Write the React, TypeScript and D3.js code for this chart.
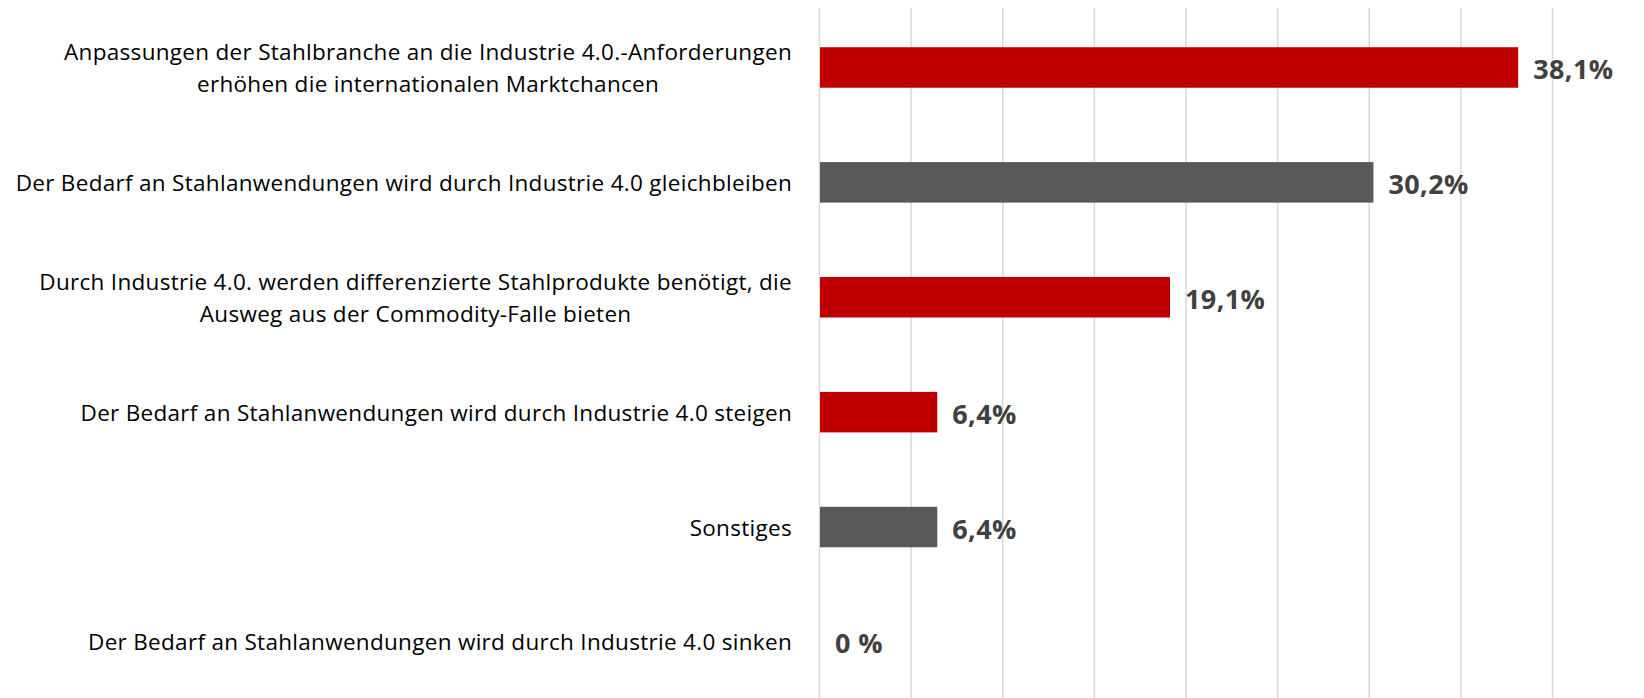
import React from "react";
import * as d3 from "d3";

const categories: string[][] = [
  ["Anpassungen der Stahlbranche an die Industrie 4.0.-Anforderungen", "erhöhen die internationalen Marktchancen"],
  ["Der Bedarf an Stahlanwendungen wird durch Industrie 4.0 gleichbleiben"],
  ["Durch Industrie 4.0. werden differenzierte Stahlprodukte benötigt, die", "Ausweg aus der Commodity-Falle bieten"],
  ["Der Bedarf an Stahlanwendungen wird durch Industrie 4.0 steigen"],
  ["Sonstiges"],
  ["Der Bedarf an Stahlanwendungen wird durch Industrie 4.0 sinken"],
];
const values: number[] = [38.1, 30.2, 19.1, 6.4, 6.4, 0];
const valueLabels: string[] = ["38,1%", "30,2%", "19,1%", "6,4%", "6,4%", "0 %"];
const barColors: string[] = ["#C00000", "#595959", "#C00000", "#C00000", "#595959", "#C00000"];
const gridTicks: number[] = [0, 5, 10, 15, 20, 25, 30, 35, 40];

const W = 1644;
const H = 698;
const left = 820;
const right = 1553;
const gridTop = 8;
const gridBottom = 698;
const bandTop = 10;
const bandBottom = 699.4;
const labelRight = 792;
const FONT = "'Open Sans', Lato, sans-serif";

export default function App() {
  const x = d3.scaleLinear().domain([0, 40]).range([left, right]);
  const y = d3
    .scaleBand<number>()
    .domain(d3.range(categories.length))
    .range([bandTop, bandBottom])
    .paddingInner(0.6475)
    .paddingOuter(0.324);
  const lineH = 31.5;

  return (
    <svg
      width={W}
      height={H}
      style={{ position: "absolute", left: 0, top: 0, display: "block", background: "#fff" }}
    >
      {gridTicks.map((t) => (
        <line key={t} x1={x(t) - 0.5} x2={x(t) - 0.5} y1={gridTop} y2={gridBottom} stroke="#D9D9D9" strokeWidth={1.5} />
      ))}
      {values.map((v, i) => {
        const yb = y(i)!;
        const cy = yb + y.bandwidth() / 2;
        const lines = categories[i];
        return (
          <g key={i}>
            {v > 0 && (
              <rect x={x(0)} y={yb} width={x(v) - x(0)} height={y.bandwidth()} fill={barColors[i]} />
            )}
            <text
              x={x(v) + 15}
              y={cy + 11.5}
              fontFamily={FONT}
              fontWeight="bold"
              fontSize={27}
              letterSpacing={0.4}
              fill="#404040"
            >
              {valueLabels[i]}
            </text>
            <LabelBlock lines={lines} right={labelRight} cy={cy} lineH={lineH} />
          </g>
        );
      })}
    </svg>
  );
}

function LabelBlock({ lines, right, cy, lineH }: { lines: string[]; right: number; cy: number; lineH: number }) {
  const ref = React.useRef<SVGGElement>(null);
  const [center, setCenter] = React.useState<number | null>(null);
  React.useLayoutEffect(() => {
    if (!ref.current) return;
    const texts = Array.from(ref.current.querySelectorAll("text")) as SVGTextElement[];
    const maxW = d3.max(texts, (t) => t.getBBox().width) || 0;
    setCenter(right - maxW / 2);
  }, [lines, right]);
  const y0 = cy - ((lines.length - 1) * lineH) / 2 + 8.5;
  const multi = lines.length > 1;
  return (
    <g ref={ref}>
      {lines.map((ln, k) => (
        <text
          key={k}
          x={multi && center !== null ? center : right}
          y={y0 + k * lineH}
          textAnchor={multi && center !== null ? "middle" : "end"}
          fontFamily={FONT}
          fontSize={22.5}
          letterSpacing={0.3}
          fill="#000"
        >
          {ln}
        </text>
      ))}
    </g>
  );
}
